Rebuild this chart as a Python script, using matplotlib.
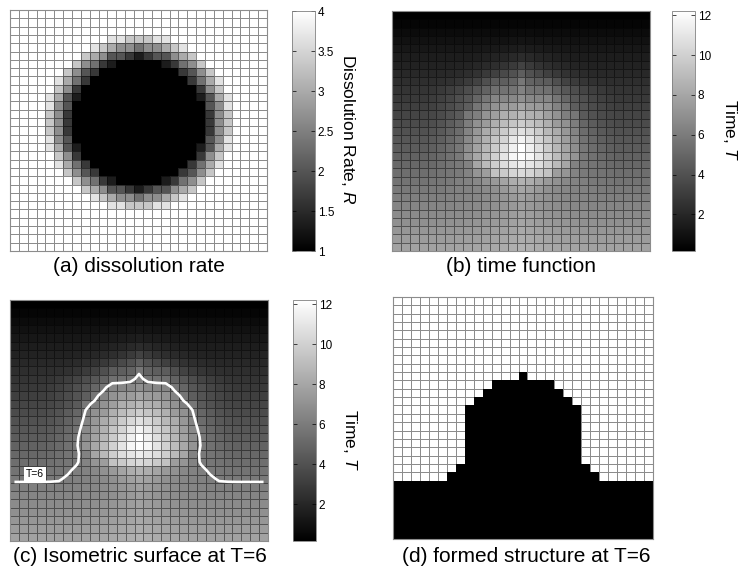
import numpy as np
import matplotlib
matplotlib.use("Agg")
import matplotlib.pyplot as plt
from matplotlib.colors import ListedColormap

plt.rcParams['font.family'] = ['Liberation Sans', 'DejaVu Sans']
plt.rcParams['mathtext.fontset'] = 'custom'
plt.rcParams['mathtext.rm'] = 'Liberation Sans'
plt.rcParams['mathtext.it'] = 'Liberation Sans:italic'

# ---------------- data ----------------
# (a) dissolution rate, one digit per cell: 0 -> R=1 (black) ... 9 -> R=4 (white)
rate_rows = [
    "9" * 29,
    "9" * 29,
    "9" * 29,
    "9" * 11 + "8877788" + "9" * 11,
    "9" * 9 + "87655455678" + "9" * 9,
    "9" * 8 + "7653321233567" + "9" * 8,
    "9" * 7 + "754210000012457" + "9" * 7,
    "9" * 6 + "75320000000002357" + "9" * 6,
    "9" * 5 + "8642" + "0" * 11 + "2468" + "9" * 5,
    "9" * 5 + "752" + "0" * 13 + "257" + "9" * 5,
    "9" * 4 + "8631" + "0" * 13 + "1368" + "9" * 4,
    "9" * 4 + "853" + "0" * 15 + "358" + "9" * 4,
    "9" * 4 + "752" + "0" * 15 + "257" + "9" * 4,
    "9" * 4 + "752" + "0" * 15 + "257" + "9" * 4,
    "9" * 4 + "752" + "0" * 15 + "257" + "9" * 4,
    "9" * 4 + "853" + "0" * 15 + "358" + "9" * 4,
    "9" * 4 + "8631" + "0" * 13 + "1368" + "9" * 4,
    "9" * 5 + "752" + "0" * 13 + "257" + "9" * 5,
    "9" * 5 + "8642" + "0" * 11 + "2468" + "9" * 5,
    "9" * 6 + "75320000000002357" + "9" * 6,
    "9" * 7 + "754210000012457" + "9" * 7,
    "9" * 8 + "7653321233567" + "9" * 8,
    "9" * 9 + "87655455678" + "9" * 9,
    "9" * 11 + "8877788" + "9" * 11,
    "9" * 29,
    "9" * 29,
    "9" * 29,
    "9" * 29,
    "9" * 29,
]
rate_min, rate_max = 1.0, 4.0

# (b)/(c) time function T, rows top -> bottom, 29 columns each
time_rows = [
    [0.16]*29,
    [0.43]*29,
    [0.71]*12 + [0.72, 0.74, 0.75, 0.74, 0.72] + [0.71]*12,
    [0.98]*11 + [1.02, 1.05, 1.10, 1.12, 1.10, 1.05, 1.02] + [0.98]*11,
    [1.25]*9 + [1.28, 1.32, 1.38, 1.45, 1.52, 1.58, 1.52, 1.45, 1.38, 1.32, 1.28] + [1.25]*9,
    [1.53]*8 + [1.56, 1.62, 1.70, 1.82, 1.95, 2.10, 2.25, 2.10, 1.95, 1.82, 1.70, 1.62, 1.56] + [1.53]*8,
    [1.80]*7 + [1.84, 1.90, 2.00, 2.15, 2.35, 2.60, 2.90, 3.30, 2.90, 2.60, 2.35, 2.15, 2.00, 1.90, 1.84] + [1.80]*7,
    [2.07]*6 + [2.12, 2.20, 2.35, 2.55, 2.85, 3.20, 3.60, 4.00, 4.60, 4.00, 3.60, 3.20, 2.85, 2.55, 2.35, 2.20, 2.12] + [2.07]*6,
    [2.34]*5 + [2.40, 2.50, 2.70, 2.95, 3.30, 3.90, 4.50, 4.60, 4.85, 5.80, 4.85, 4.60, 4.50, 3.90, 3.30, 2.95, 2.70, 2.50, 2.40] + [2.34]*5,
    [2.62]*4 + [2.70, 2.85, 3.10, 3.40, 3.80, 4.30, 4.80, 5.45, 5.55, 5.65, 6.30, 5.65, 5.55, 5.45, 4.80, 4.30, 3.80, 3.40, 3.10, 2.85, 2.70] + [2.62]*4,
    [2.89]*4 + [2.99, 3.19, 3.49, 3.89, 4.30, 5.00, 5.75, 6.50, 6.50, 6.60, 6.99, 6.60, 6.50, 6.50, 5.75, 5.00, 4.30, 3.89, 3.49, 3.19, 2.99] + [2.89]*4,
    [3.16]*4 + [3.26, 3.46, 3.76, 4.16, 4.60, 5.75, 6.34, 7.09, 7.45, 7.55, 7.94, 7.55, 7.45, 7.09, 6.34, 5.75, 4.60, 4.16, 3.76, 3.46, 3.26] + [3.16]*4,
    [3.44]*4 + [3.54, 3.74, 4.04, 4.44, 5.80, 6.15, 7.09, 7.68, 8.40, 8.50, 8.89, 8.50, 8.40, 7.68, 7.09, 6.15, 5.80, 4.44, 4.04, 3.74, 3.54] + [3.44]*4,
    [3.71]*4 + [3.86, 4.11, 4.51, 5.01, 6.07, 7.02, 7.49, 8.43, 9.02, 9.45, 9.84, 9.45, 9.02, 8.43, 7.49, 7.02, 6.07, 5.01, 4.51, 4.11, 3.86] + [3.71]*4,
    [3.98]*4 + [4.13, 4.38, 4.78, 5.28, 6.34, 7.29, 8.24, 8.83, 9.77, 10.36, 10.79, 10.36, 9.77, 8.83, 8.24, 7.29, 6.34, 5.28, 4.78, 4.38, 4.13] + [3.98]*4,
    [4.26]*4 + [4.41, 4.66, 5.06, 5.56, 6.62, 7.57, 8.52, 9.47, 10.17, 11.11, 11.70, 11.11, 10.17, 9.47, 8.52, 7.57, 6.62, 5.56, 5.06, 4.66, 4.41] + [4.26]*4,
    [4.53]*4 + [4.68, 4.93, 5.33, 5.80, 6.89, 7.84, 8.79, 9.74, 10.69, 11.50, 12.22, 11.50, 10.69, 9.74, 8.79, 7.84, 6.89, 5.80, 5.33, 4.93, 4.68] + [4.53]*4,
    [4.80]*4 + [4.95, 5.20, 5.50, 5.88, 7.16, 8.11, 9.06, 10.01, 10.96, 11.80, 12.15, 11.80, 10.96, 10.01, 9.06, 8.11, 7.16, 5.88, 5.50, 5.20, 4.95] + [4.80]*4,
    [5.07]*4 + [5.20, 5.40, 5.65, 5.90, 6.30, 8.00, 8.95, 9.90, 10.64, 11.04, 11.40, 11.04, 10.64, 9.90, 8.95, 8.00, 6.30, 5.90, 5.65, 5.40, 5.20] + [5.07]*4,
    [5.35]*4 + [5.45, 5.60, 5.75, 5.92, 6.35, 7.20, 7.60, 9.30, 9.70, 10.20, 10.45, 10.20, 9.70, 9.30, 7.60, 7.20, 6.35, 5.92, 5.75, 5.60, 5.45] + [5.35]*4,
    [5.62]*4 + [5.68, 5.75, 5.90, 6.15, 6.30, 6.60, 7.00, 7.40, 7.90, 8.35, 8.55, 8.35, 7.90, 7.40, 7.00, 6.60, 6.30, 6.15, 5.90, 5.75, 5.68] + [5.62]*4,
    [5.89]*4 + [5.90, 5.93, 6.10, 6.25, 6.30, 6.50, 6.70, 6.95, 7.40, 7.75, 8.00, 7.75, 7.40, 6.95, 6.70, 6.50, 6.30, 6.25, 6.10, 5.93, 5.90] + [5.89]*4,
    [6.17]*6 + [6.25, 6.35, 6.45, 6.55, 6.72, 6.95, 7.20, 7.45, 7.70, 7.45, 7.20, 6.95, 6.72, 6.55, 6.45, 6.35, 6.25] + [6.17]*6,
    [6.44]*6 + [6.47, 6.52, 6.57, 6.68, 6.82, 6.99, 7.19, 7.41, 7.65, 7.41, 7.19, 6.99, 6.82, 6.68, 6.57, 6.52, 6.47] + [6.44]*6,
    [6.71]*6 + [6.73, 6.77, 6.83, 6.93, 7.05, 7.20, 7.38, 7.57, 7.78, 7.57, 7.38, 7.20, 7.05, 6.93, 6.83, 6.77, 6.73] + [6.71]*6,
    [6.99]*6 + [7.00, 7.03, 7.10, 7.18, 7.29, 7.42, 7.58, 7.76, 7.96, 7.76, 7.58, 7.42, 7.29, 7.18, 7.10, 7.03, 7.00] + [6.99]*6,
    [7.26]*6 + [7.27, 7.30, 7.35, 7.44, 7.54, 7.66, 7.80, 7.97, 8.15, 7.97, 7.80, 7.66, 7.54, 7.44, 7.35, 7.30, 7.27] + [7.26]*6,
    [7.53]*6 + [7.54, 7.57, 7.62, 7.69, 7.79, 7.90, 8.03, 8.18, 8.35, 8.18, 8.03, 7.90, 7.79, 7.69, 7.62, 7.57, 7.54] + [7.53]*6,
    [7.80]*6 + [7.81, 7.84, 7.89, 7.96, 8.04, 8.15, 8.27, 8.41, 8.57, 8.41, 8.27, 8.15, 8.04, 7.96, 7.89, 7.84, 7.81] + [7.80]*6,
]
time_min, time_max = 0.16, 12.22
iso_level = 6

# (d) first row (from top) of the formed black structure in each column
structure_top_row = [22, 22, 22, 22, 22, 22, 21, 20, 13, 12, 11, 10, 10, 10, 9,
                     10, 10, 10, 11, 12, 13, 20, 21, 22, 22, 22, 22, 22, 22]

rate_ticks = [1, 1.5, 2, 2.5, 3, 3.5, 4]
time_ticks = [2, 4, 6, 8, 10, 12]

captions = ["(a) dissolution rate", "(b) time function",
            "(c) Isometric surface at T=6", "(d) formed structure at T=6"]

# ---------------- build grids ----------------
for s in rate_rows:
    assert len(s) == 29
for r in time_rows:
    assert len(r) == 29
levels = np.array([[int(ch) for ch in s] for s in rate_rows], dtype=float)
R = rate_min + (rate_max - rate_min) * levels / 9.0
T = np.array(time_rows)
n = T.shape[0]
S = np.array([[1.0 if row >= structure_top_row[c] else 0.0 for c in range(n)]
              for row in range(n)])

# ---------------- figure ----------------
W, H = 744, 575
fig = plt.figure(figsize=(W / 100, H / 100), dpi=100)
fig.patch.set_facecolor('white')


def ax_px(l, t, r, b):
    return fig.add_axes([l / W, 1 - b / H, (r - l) / W, (b - t) / H])


edges = np.arange(n + 1)
centers = np.arange(n) + 0.5
edge_kw = dict(edgecolors=(0, 0, 0, 0.45), linewidth=0.5)


def style_map(ax):
    ax.set_xlim(0, n)
    ax.set_ylim(n, 0)
    ax.set_xticks([])
    ax.set_yticks([])
    for sp in ax.spines.values():
        sp.set_color('0.55')
        sp.set_linewidth(0.8)


def style_cbar(cb, ticks):
    cb.set_ticks(ticks)
    cb.set_ticklabels([f"{t:g}" for t in ticks])
    cb.ax.tick_params(direction='in', length=3, width=0.5, colors='black',
                      labelsize=8.5, pad=2, right=True, left=True)
    cb.outline.set_edgecolor('0.5')
    cb.outline.set_linewidth(0.6)


ax_a = ax_px(10, 10, 267, 251)
cax_a = ax_px(292, 11, 315, 251)
ax_b = ax_px(392, 11, 650, 251)
cax_b = ax_px(672, 11, 695, 251)
ax_c = ax_px(10, 300, 268, 541)
cax_c = ax_px(293, 300, 316, 541)
ax_d = ax_px(393, 297, 653, 539)

m_a = ax_a.pcolormesh(edges, edges, R, cmap='gray', vmin=rate_min, vmax=rate_max, **edge_kw)
style_map(ax_a)
cb_a = fig.colorbar(m_a, cax=cax_a)
style_cbar(cb_a, rate_ticks)

m_b = ax_b.pcolormesh(edges, edges, T, cmap='gray', vmin=time_min, vmax=time_max, **edge_kw)
style_map(ax_b)
cb_b = fig.colorbar(m_b, cax=cax_b)
style_cbar(cb_b, time_ticks)

m_c = ax_c.pcolormesh(edges, edges, T, cmap='gray', vmin=time_min, vmax=time_max, **edge_kw)
ax_c.contour(centers, centers, T, levels=[iso_level], colors='white', linewidths=1.9)
style_map(ax_c)
ax_c.text(2.8, 20.95, "T=6", fontsize=7.5, ha='center', va='center', color='black',
          bbox=dict(facecolor='white', edgecolor='none', pad=1.5))
cb_c = fig.colorbar(m_c, cax=cax_c)
style_cbar(cb_c, time_ticks)

ax_d.pcolormesh(edges, edges, S, cmap=ListedColormap(['white', 'black']),
                vmin=0, vmax=1, **edge_kw)
style_map(ax_d)

# colorbar labels
fig.text(348 / W, 1 - 129 / H, "Dissolution Rate, $\\mathit{R}$", rotation=-90,
         ha='center', va='center', fontsize=12.5)
fig.text(730 / W, 1 - 130 / H, "Time, $\\mathit{T}$", rotation=-90,
         ha='center', va='center', fontsize=12.5)
fig.text(350 / W, 1 - 440 / H, "Time, $\\mathit{T}$", rotation=-90,
         ha='center', va='center', fontsize=12.5)

# captions
fig.text(139 / W, 1 - 267 / H, captions[0], ha='center', va='center', fontsize=15)
fig.text(521 / W, 1 - 267 / H, captions[1], ha='center', va='center', fontsize=15)
fig.text(140 / W, 1 - 557 / H, captions[2], ha='center', va='center', fontsize=15)
fig.text(526 / W, 1 - 557 / H, captions[3], ha='center', va='center', fontsize=15)

fig.savefig("out.png", dpi=100, facecolor='white')
